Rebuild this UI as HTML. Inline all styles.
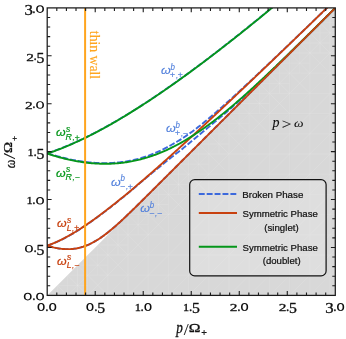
<!DOCTYPE html>
<html><head><meta charset="utf-8"><title>Dispersion relations chart</title>
<style>html,body{margin:0;padding:0;background:#fff}svg{display:block}</style></head>
<body>
<svg width="346" height="339" viewBox="0 0 346 339" style="will-change:transform">
<rect width="346" height="339" fill="#fff"/>
<defs><clipPath id="c"><rect x="47.20" y="7.90" width="288.10" height="287.50"/></clipPath></defs>
<g clip-path="url(#c)">
<polygon points="47.20,295.40 335.30,295.40 335.30,7.90" fill="#d8d8d8"/>
<clipPath id="t"><polygon points="47.20,295.40 335.30,295.40 335.30,7.90"/></clipPath>
<path clip-path="url(#t)" d="M47.20,295.40 V7.90 M47.20,295.40 H355.30 M67.40,295.40 V7.90 M47.20,275.20 H355.30 M87.60,295.40 V7.90 M47.20,255.00 H355.30 M107.80,295.40 V7.90 M47.20,234.80 H355.30 M128.00,295.40 V7.90 M47.20,214.60 H355.30 M148.20,295.40 V7.90 M47.20,194.40 H355.30 M168.40,295.40 V7.90 M47.20,174.20 H355.30 M188.60,295.40 V7.90 M47.20,154.00 H355.30 M208.80,295.40 V7.90 M47.20,133.80 H355.30 M229.00,295.40 V7.90 M47.20,113.60 H355.30 M249.20,295.40 V7.90 M47.20,93.40 H355.30 M269.40,295.40 V7.90 M47.20,73.20 H355.30 M289.60,295.40 V7.90 M47.20,53.00 H355.30 M309.80,295.40 V7.90 M47.20,32.80 H355.30 M330.00,295.40 V7.90 M47.20,12.60 H355.30 M350.20,295.40 V7.90 M47.20,-7.60 H355.30 M-276.00,295.40 l323.20,-323.20 M-255.80,295.40 l323.20,-323.20 M-235.60,295.40 l323.20,-323.20 M-215.40,295.40 l323.20,-323.20 M-195.20,295.40 l323.20,-323.20 M-175.00,295.40 l323.20,-323.20 M-154.80,295.40 l323.20,-323.20 M-134.60,295.40 l323.20,-323.20 M-114.40,295.40 l323.20,-323.20 M-94.20,295.40 l323.20,-323.20 M-74.00,295.40 l323.20,-323.20 M-53.80,295.40 l323.20,-323.20 M-33.60,295.40 l323.20,-323.20 M-13.40,295.40 l323.20,-323.20 M6.80,295.40 l323.20,-323.20 M27.00,295.40 l323.20,-323.20 M47.20,295.40 l323.20,-323.20 M67.40,295.40 l323.20,-323.20 M87.60,295.40 l323.20,-323.20 M107.80,295.40 l323.20,-323.20 M128.00,295.40 l323.20,-323.20 M148.20,295.40 l323.20,-323.20 M168.40,295.40 l323.20,-323.20 M188.60,295.40 l323.20,-323.20 M208.80,295.40 l323.20,-323.20 M229.00,295.40 l323.20,-323.20 M249.20,295.40 l323.20,-323.20 M269.40,295.40 l323.20,-323.20 M289.60,295.40 l323.20,-323.20 M309.80,295.40 l323.20,-323.20 M330.00,295.40 l323.20,-323.20 M350.20,295.40 l323.20,-323.20 M370.40,295.40 l323.20,-323.20 M47.20,275.20 l20.20,20.20 M57.30,295.40 v-20.20 M47.20,285.30 h20.20 M67.40,275.20 l20.20,20.20 M77.50,295.40 v-20.20 M67.40,285.30 h20.20 M67.40,255.00 l20.20,20.20 M77.50,275.20 v-20.20 M67.40,265.10 h20.20 M87.60,275.20 l20.20,20.20 M87.60,255.00 l20.20,20.20 M97.70,275.20 v-20.20 M87.60,265.10 h20.20 M87.60,234.80 l20.20,20.20 M97.70,255.00 v-20.20 M87.60,244.90 h20.20 M107.80,255.00 l20.20,20.20 M107.80,234.80 l20.20,20.20 M117.90,255.00 v-20.20 M107.80,244.90 h20.20 M107.80,214.60 l20.20,20.20 M117.90,234.80 v-20.20 M107.80,224.70 h20.20 M128.00,234.80 l20.20,20.20 M128.00,214.60 l20.20,20.20 M138.10,234.80 v-20.20 M128.00,224.70 h20.20 M128.00,194.40 l20.20,20.20 M138.10,214.60 v-20.20 M128.00,204.50 h20.20 M148.20,214.60 l20.20,20.20 M148.20,194.40 l20.20,20.20 M158.30,214.60 v-20.20 M148.20,204.50 h20.20 M148.20,174.20 l20.20,20.20 M158.30,194.40 v-20.20 M148.20,184.30 h20.20 M168.40,194.40 l20.20,20.20 M168.40,174.20 l20.20,20.20 M178.50,194.40 v-20.20 M168.40,184.30 h20.20 M168.40,154.00 l20.20,20.20 M178.50,174.20 v-20.20 M168.40,164.10 h20.20 M188.60,174.20 l20.20,20.20 M188.60,154.00 l20.20,20.20 M198.70,174.20 v-20.20 M188.60,164.10 h20.20 M188.60,133.80 l20.20,20.20 M198.70,154.00 v-20.20 M188.60,143.90 h20.20 M208.80,154.00 l20.20,20.20 M208.80,133.80 l20.20,20.20 M218.90,154.00 v-20.20 M208.80,143.90 h20.20 M208.80,113.60 l20.20,20.20 M218.90,133.80 v-20.20 M208.80,123.70 h20.20 M229.00,133.80 l20.20,20.20 M229.00,113.60 l20.20,20.20 M239.10,133.80 v-20.20 M229.00,123.70 h20.20 M229.00,93.40 l20.20,20.20 M239.10,113.60 v-20.20 M229.00,103.50 h20.20 M249.20,113.60 l20.20,20.20 M249.20,93.40 l20.20,20.20 M259.30,113.60 v-20.20 M249.20,103.50 h20.20 M249.20,73.20 l20.20,20.20 M259.30,93.40 v-20.20 M249.20,83.30 h20.20 M269.40,93.40 l20.20,20.20 M269.40,73.20 l20.20,20.20 M279.50,93.40 v-20.20 M269.40,83.30 h20.20 M269.40,53.00 l20.20,20.20 M279.50,73.20 v-20.20 M269.40,63.10 h20.20 M289.60,73.20 l20.20,20.20 M289.60,53.00 l20.20,20.20 M299.70,73.20 v-20.20 M289.60,63.10 h20.20 M289.60,32.80 l20.20,20.20 M299.70,53.00 v-20.20 M289.60,42.90 h20.20 M309.80,53.00 l20.20,20.20 M309.80,32.80 l20.20,20.20 M319.90,53.00 v-20.20 M309.80,42.90 h20.20 M309.80,12.60 l20.20,20.20 M319.90,32.80 v-20.20 M309.80,22.70 h20.20 M330.00,32.80 l20.20,20.20 M330.00,12.60 l20.20,20.20 M340.10,32.80 v-20.20 M330.00,22.70 h20.20 M330.00,-7.60 l20.20,20.20 M340.10,12.60 v-20.20 M330.00,2.50 h20.20 M350.20,12.60 l20.20,20.20 M350.20,-7.60 l20.20,20.20 M360.30,12.60 v-20.20 M350.20,2.50 h20.20 M350.20,-27.80 l20.20,20.20 M360.30,-7.60 v-20.20 M350.20,-17.70 h20.20" stroke="#ececec" stroke-width="0.7" fill="none" opacity="0.3"/>
</g>
<text transform="translate(161.053,74.126) scale(0.6215,0.5818)" style="font-family:'Liberation Sans',sans-serif;font-style:italic;font-size:20px;font-kerning:none" fill="#5280dc" stroke="#5280dc" stroke-width="0.199" stroke-linejoin="round">ω</text>
<text transform="translate(170.447,69.654) scale(0.3990,0.4412)" style="font-family:'Liberation Sans',sans-serif;font-style:italic;font-size:20px;font-kerning:none" fill="#5280dc" stroke="#5280dc" stroke-width="0.286" stroke-linejoin="round">b</text>
<text transform="translate(169.788,78.277) scale(0.4508,0.4476)" style="font-family:'Liberation Sans',sans-serif;font-style:italic;font-size:20px;font-kerning:none" fill="#5280dc" stroke="#5280dc" stroke-width="0.267" stroke-linejoin="round">+</text>
<text transform="translate(175.899,77.561) scale(0.4180,0.4258)" style="font-family:'Liberation Sans',sans-serif;font-style:italic;font-size:20px;font-kerning:none" fill="#5280dc" stroke="#5280dc" stroke-width="0.237" stroke-linejoin="round">,</text>
<text transform="translate(177.488,78.277) scale(0.4508,0.4476)" style="font-family:'Liberation Sans',sans-serif;font-style:italic;font-size:20px;font-kerning:none" fill="#5280dc" stroke="#5280dc" stroke-width="0.267" stroke-linejoin="round">+</text>
<text transform="translate(166.053,132.226) scale(0.6215,0.5818)" style="font-family:'Liberation Sans',sans-serif;font-style:italic;font-size:20px;font-kerning:none" fill="#5280dc" stroke="#5280dc" stroke-width="0.199" stroke-linejoin="round">ω</text>
<text transform="translate(175.447,127.754) scale(0.3990,0.4412)" style="font-family:'Liberation Sans',sans-serif;font-style:italic;font-size:20px;font-kerning:none" fill="#5280dc" stroke="#5280dc" stroke-width="0.286" stroke-linejoin="round">b</text>
<text transform="translate(174.788,136.377) scale(0.4508,0.4476)" style="font-family:'Liberation Sans',sans-serif;font-style:italic;font-size:20px;font-kerning:none" fill="#5280dc" stroke="#5280dc" stroke-width="0.267" stroke-linejoin="round">+</text>
<text transform="translate(180.899,135.661) scale(0.4180,0.4258)" style="font-family:'Liberation Sans',sans-serif;font-style:italic;font-size:20px;font-kerning:none" fill="#5280dc" stroke="#5280dc" stroke-width="0.237" stroke-linejoin="round">,</text>
<text transform="translate(182.471,136.615) scale(0.4528,0.4910)" style="font-family:'Liberation Sans',sans-serif;font-style:italic;font-size:20px;font-kerning:none" fill="#5280dc" stroke="#5280dc" stroke-width="0.212" stroke-linejoin="round">−</text>
<text transform="translate(111.053,185.526) scale(0.6215,0.5818)" style="font-family:'Liberation Sans',sans-serif;font-style:italic;font-size:20px;font-kerning:none" fill="#5280dc" stroke="#5280dc" stroke-width="0.199" stroke-linejoin="round">ω</text>
<text transform="translate(120.447,181.054) scale(0.3990,0.4412)" style="font-family:'Liberation Sans',sans-serif;font-style:italic;font-size:20px;font-kerning:none" fill="#5280dc" stroke="#5280dc" stroke-width="0.286" stroke-linejoin="round">b</text>
<text transform="translate(119.771,189.915) scale(0.4528,0.4910)" style="font-family:'Liberation Sans',sans-serif;font-style:italic;font-size:20px;font-kerning:none" fill="#5280dc" stroke="#5280dc" stroke-width="0.212" stroke-linejoin="round">−</text>
<text transform="translate(125.899,188.961) scale(0.4180,0.4258)" style="font-family:'Liberation Sans',sans-serif;font-style:italic;font-size:20px;font-kerning:none" fill="#5280dc" stroke="#5280dc" stroke-width="0.237" stroke-linejoin="round">,</text>
<text transform="translate(127.488,189.677) scale(0.4508,0.4476)" style="font-family:'Liberation Sans',sans-serif;font-style:italic;font-size:20px;font-kerning:none" fill="#5280dc" stroke="#5280dc" stroke-width="0.267" stroke-linejoin="round">+</text>
<text transform="translate(140.253,212.226) scale(0.6215,0.5818)" style="font-family:'Liberation Sans',sans-serif;font-style:italic;font-size:20px;font-kerning:none" fill="#5280dc" stroke="#5280dc" stroke-width="0.199" stroke-linejoin="round">ω</text>
<text transform="translate(149.647,207.754) scale(0.3990,0.4412)" style="font-family:'Liberation Sans',sans-serif;font-style:italic;font-size:20px;font-kerning:none" fill="#5280dc" stroke="#5280dc" stroke-width="0.286" stroke-linejoin="round">b</text>
<text transform="translate(148.971,216.615) scale(0.4528,0.4910)" style="font-family:'Liberation Sans',sans-serif;font-style:italic;font-size:20px;font-kerning:none" fill="#5280dc" stroke="#5280dc" stroke-width="0.212" stroke-linejoin="round">−</text>
<text transform="translate(155.099,215.661) scale(0.4180,0.4258)" style="font-family:'Liberation Sans',sans-serif;font-style:italic;font-size:20px;font-kerning:none" fill="#5280dc" stroke="#5280dc" stroke-width="0.237" stroke-linejoin="round">,</text>
<text transform="translate(156.671,216.615) scale(0.4528,0.4910)" style="font-family:'Liberation Sans',sans-serif;font-style:italic;font-size:20px;font-kerning:none" fill="#5280dc" stroke="#5280dc" stroke-width="0.212" stroke-linejoin="round">−</text>
<text transform="translate(56.097,136.488) scale(0.6159,0.5745)" style="font-family:'Liberation Sans',sans-serif;font-style:italic;font-size:20px;font-kerning:none" fill="#05961a" stroke="#05961a" stroke-width="0.336" stroke-linejoin="round">ω</text>
<text transform="translate(65.979,131.716) scale(0.4297,0.4301)" style="font-family:'Liberation Sans',sans-serif;font-style:italic;font-size:20px;font-kerning:none" fill="#05961a" stroke="#05961a" stroke-width="0.465" stroke-linejoin="round">s</text>
<text transform="translate(65.525,139.800) scale(0.4465,0.4070)" style="font-family:'Liberation Sans',sans-serif;font-style:italic;font-size:20px;font-kerning:none" fill="#05961a" stroke="#05961a" stroke-width="0.469" stroke-linejoin="round">R</text>
<text transform="translate(72.599,139.961) scale(0.4180,0.4258)" style="font-family:'Liberation Sans',sans-serif;font-style:italic;font-size:20px;font-kerning:none" fill="#05961a" stroke="#05961a" stroke-width="0.237" stroke-linejoin="round">,</text>
<text transform="translate(74.538,140.622) scale(0.4425,0.4394)" style="font-family:'Liberation Sans',sans-serif;font-style:italic;font-size:20px;font-kerning:none" fill="#05961a" stroke="#05961a" stroke-width="0.454" stroke-linejoin="round">+</text>
<text transform="translate(56.097,176.588) scale(0.6159,0.5745)" style="font-family:'Liberation Sans',sans-serif;font-style:italic;font-size:20px;font-kerning:none" fill="#05961a" stroke="#05961a" stroke-width="0.336" stroke-linejoin="round">ω</text>
<text transform="translate(65.979,171.816) scale(0.4297,0.4301)" style="font-family:'Liberation Sans',sans-serif;font-style:italic;font-size:20px;font-kerning:none" fill="#05961a" stroke="#05961a" stroke-width="0.465" stroke-linejoin="round">s</text>
<text transform="translate(65.525,179.900) scale(0.4465,0.4070)" style="font-family:'Liberation Sans',sans-serif;font-style:italic;font-size:20px;font-kerning:none" fill="#05961a" stroke="#05961a" stroke-width="0.469" stroke-linejoin="round">R</text>
<text transform="translate(72.599,180.061) scale(0.4180,0.4258)" style="font-family:'Liberation Sans',sans-serif;font-style:italic;font-size:20px;font-kerning:none" fill="#05961a" stroke="#05961a" stroke-width="0.237" stroke-linejoin="round">,</text>
<text transform="translate(74.471,181.015) scale(0.4528,0.4910)" style="font-family:'Liberation Sans',sans-serif;font-style:italic;font-size:20px;font-kerning:none" fill="#05961a" stroke="#05961a" stroke-width="0.212" stroke-linejoin="round">−</text>
<text transform="translate(56.997,227.288) scale(0.6159,0.5745)" style="font-family:'Liberation Sans',sans-serif;font-style:italic;font-size:20px;font-kerning:none" fill="#c8410f" stroke="#c8410f" stroke-width="0.336" stroke-linejoin="round">ω</text>
<text transform="translate(66.879,222.516) scale(0.4297,0.4301)" style="font-family:'Liberation Sans',sans-serif;font-style:italic;font-size:20px;font-kerning:none" fill="#c8410f" stroke="#c8410f" stroke-width="0.465" stroke-linejoin="round">s</text>
<text transform="translate(66.737,230.600) scale(0.4280,0.4070)" style="font-family:'Liberation Sans',sans-serif;font-style:italic;font-size:20px;font-kerning:none" fill="#c8410f" stroke="#c8410f" stroke-width="0.479" stroke-linejoin="round">L</text>
<text transform="translate(71.899,230.761) scale(0.4180,0.4258)" style="font-family:'Liberation Sans',sans-serif;font-style:italic;font-size:20px;font-kerning:none" fill="#c8410f" stroke="#c8410f" stroke-width="0.237" stroke-linejoin="round">,</text>
<text transform="translate(74.038,231.422) scale(0.4425,0.4394)" style="font-family:'Liberation Sans',sans-serif;font-style:italic;font-size:20px;font-kerning:none" fill="#c8410f" stroke="#c8410f" stroke-width="0.454" stroke-linejoin="round">+</text>
<text transform="translate(56.997,264.588) scale(0.6159,0.5745)" style="font-family:'Liberation Sans',sans-serif;font-style:italic;font-size:20px;font-kerning:none" fill="#c8410f" stroke="#c8410f" stroke-width="0.336" stroke-linejoin="round">ω</text>
<text transform="translate(66.879,259.816) scale(0.4297,0.4301)" style="font-family:'Liberation Sans',sans-serif;font-style:italic;font-size:20px;font-kerning:none" fill="#c8410f" stroke="#c8410f" stroke-width="0.465" stroke-linejoin="round">s</text>
<text transform="translate(66.737,267.900) scale(0.4280,0.4070)" style="font-family:'Liberation Sans',sans-serif;font-style:italic;font-size:20px;font-kerning:none" fill="#c8410f" stroke="#c8410f" stroke-width="0.479" stroke-linejoin="round">L</text>
<text transform="translate(71.899,268.061) scale(0.4180,0.4258)" style="font-family:'Liberation Sans',sans-serif;font-style:italic;font-size:20px;font-kerning:none" fill="#c8410f" stroke="#c8410f" stroke-width="0.237" stroke-linejoin="round">,</text>
<text transform="translate(73.971,269.015) scale(0.4528,0.4910)" style="font-family:'Liberation Sans',sans-serif;font-style:italic;font-size:20px;font-kerning:none" fill="#c8410f" stroke="#c8410f" stroke-width="0.212" stroke-linejoin="round">−</text>
<g clip-path="url(#c)" fill="none" stroke-width="1.9">
<path d="M47.20,153.37 L48.16,153.05 L49.12,152.73 L50.08,152.40 L51.04,152.06 L52.00,151.72 L53.20,151.30 L54.40,150.86 L55.60,150.42 L56.80,149.97 L58.00,149.52 L59.20,149.05 L60.40,148.59 L61.61,148.11 L62.81,147.64 L64.01,147.15 L65.21,146.66 L66.41,146.16 L67.61,145.66 L68.81,145.15 L70.01,144.64 L71.21,144.12 L72.41,143.59 L73.61,143.06 L74.81,142.53 L76.01,141.98 L77.21,141.44 L78.41,140.88 L79.61,140.33 L80.81,139.76 L82.01,139.20 L83.21,138.62 L84.41,138.04 L85.61,137.46 L86.81,136.87 L88.01,136.28 L89.21,135.68 L90.42,135.08 L91.62,134.47 L92.82,133.86 L94.02,133.24 L95.22,132.62 L96.42,131.99 L97.62,131.36 L98.82,130.72 L100.02,130.08 L101.22,129.44 L102.42,128.79 L103.62,128.13 L104.82,127.48 L106.02,126.81 L107.22,126.15 L108.42,125.48 L109.62,124.80 L110.82,124.12 L112.02,123.44 L113.22,122.75 L114.42,122.06 L115.62,121.37 L116.82,120.67 L118.02,119.97 L119.23,119.26 L120.43,118.55 L121.63,117.83 L122.83,117.12 L124.03,116.39 L125.23,115.67 L126.43,114.94 L127.63,114.21 L128.83,113.47 L130.03,112.73 L131.23,111.99 L132.43,111.24 L133.63,110.49 L134.83,109.74 L136.03,108.98 L137.23,108.22 L138.43,107.46 L139.63,106.69 L140.83,105.92 L142.03,105.15 L143.23,104.37 L144.43,103.59 L145.63,102.81 L146.83,102.03 L148.04,101.24 L149.24,100.45 L150.44,99.65 L151.64,98.85 L152.84,98.05 L154.04,97.25 L155.24,96.44 L156.44,95.63 L157.64,94.82 L158.84,94.01 L160.04,93.19 L161.24,92.37 L162.44,91.55 L163.64,90.72 L164.84,89.89 L166.04,89.06 L167.24,88.23 L168.44,87.39 L169.64,86.55 L170.84,85.71 L172.04,84.87 L173.24,84.02 L174.44,83.17 L175.64,82.32 L176.85,81.47 L178.05,80.61 L179.25,79.75 L180.45,78.89 L181.65,78.03 L182.85,77.16 L184.05,76.29 L185.25,75.42 L186.45,74.55 L187.65,73.68 L188.85,72.80 L190.05,71.92 L191.25,71.04 L192.45,70.16 L193.65,69.27 L194.85,68.38 L196.05,67.49 L197.25,66.60 L198.45,65.71 L199.65,64.81 L200.85,63.91 L202.05,63.01 L203.25,62.11 L204.45,61.21 L205.66,60.30 L206.86,59.39 L208.06,58.48 L209.26,57.57 L210.46,56.66 L211.66,55.74 L212.86,54.82 L214.06,53.91 L215.26,52.98 L216.46,52.06 L217.66,51.14 L218.86,50.21 L220.06,49.28 L221.26,48.35 L222.46,47.42 L223.66,46.49 L224.86,45.55 L226.06,44.62 L227.26,43.68 L228.46,42.74 L229.66,41.79 L230.86,40.85 L232.06,39.91 L233.26,38.96 L234.47,38.01 L235.67,37.06 L236.87,36.11 L238.07,35.16 L239.27,34.20 L240.47,33.25 L241.67,32.29 L242.87,31.33 L244.07,30.37 L245.27,29.41 L246.47,28.45 L247.67,27.48 L248.87,26.52 L250.07,25.55 L251.27,24.58 L252.47,23.61 L253.67,22.64 L254.87,21.66 L256.07,20.69 L257.27,19.71 L258.47,18.74 L259.67,17.76 L260.87,16.78 L262.07,15.80 L263.28,14.81 L264.48,13.83 L265.68,12.85 L266.88,11.86 L268.08,10.87 L269.28,9.88 L270.48,8.89 L271.68,7.90 L272.88,6.91 L274.08,5.92 L275.28,4.92 L276.48,3.92 L277.68,2.93 L278.88,1.93 L280.08,0.93 L281.28,-0.07 L282.48,-1.07 L283.68,-2.08 L284.88,-3.08 L286.08,-4.09 L287.28,-5.09 L288.48,-6.10 L289.68,-7.11 L290.88,-8.12 L292.08,-9.13 L293.29,-10.14 L294.49,-11.15 L295.69,-12.17 L296.89,-13.18 L298.09,-14.20 L299.29,-15.21 L300.49,-16.23 L301.69,-17.25 L302.89,-18.27 L304.09,-19.29 L305.29,-20.31 L306.49,-21.33 L307.69,-22.36 L308.89,-23.38 L310.09,-24.41 L311.29,-25.44 L312.49,-26.46 L313.69,-27.49 L314.89,-28.52 L316.09,-29.55 L317.29,-30.58 L318.49,-31.61 L319.69,-32.65 L320.89,-33.68 L322.10,-34.72 L323.30,-35.75 L324.50,-36.79 L325.70,-37.83 L326.90,-38.86 L328.10,-39.90 L329.30,-40.94 L330.50,-41.98 L331.70,-43.03 L332.90,-44.07 L334.10,-45.11 L335.30,-46.16" stroke="#3c69dc" stroke-dasharray="5.9,2.0"/>
<path d="M47.20,153.12 L48.16,153.43 L49.12,153.74 L50.08,154.05 L51.04,154.35 L52.00,154.64 L53.20,155.01 L54.40,155.36 L55.60,155.71 L56.80,156.06 L58.00,156.39 L59.20,156.72 L60.40,157.04 L61.61,157.36 L62.81,157.66 L64.01,157.96 L65.21,158.25 L66.41,158.53 L67.61,158.81 L68.81,159.07 L70.01,159.33 L71.21,159.59 L72.41,159.83 L73.61,160.06 L74.81,160.29 L76.01,160.51 L77.21,160.72 L78.41,160.92 L79.61,161.11 L80.81,161.30 L82.01,161.48 L83.21,161.64 L84.41,161.80 L85.61,161.95 L86.81,162.09 L88.01,162.23 L89.21,162.35 L90.42,162.46 L91.62,162.57 L92.82,162.67 L94.02,162.75 L95.22,162.83 L96.42,162.90 L97.62,162.96 L98.82,163.01 L100.02,163.05 L101.22,163.08 L102.42,163.10 L103.62,163.11 L104.82,163.11 L106.02,163.10 L107.22,163.08 L108.42,163.05 L109.62,163.01 L110.82,162.96 L112.02,162.90 L113.22,162.84 L114.42,162.76 L115.62,162.67 L116.82,162.56 L118.02,162.45 L119.23,162.33 L120.43,162.20 L121.63,162.06 L122.83,161.90 L124.03,161.74 L125.23,161.57 L126.43,161.38 L127.63,161.18 L128.83,160.98 L130.03,160.76 L131.23,160.53 L132.43,160.29 L133.63,160.04 L134.83,159.75 L136.03,159.45 L137.23,159.14 L138.43,158.82 L139.63,158.48 L140.83,158.13 L142.03,157.77 L143.23,157.40 L144.43,157.02 L145.63,156.62 L146.83,156.21 L148.04,155.79 L149.24,155.35 L150.44,154.90 L151.64,154.44 L152.84,153.96 L154.04,153.48 L155.24,152.97 L156.44,152.46 L157.64,151.93 L158.84,151.39 L160.04,150.83 L161.24,150.26 L162.44,149.68 L163.64,149.08 L164.84,148.47 L166.04,147.85 L167.24,147.21 L168.44,146.55 L169.64,145.89 L170.84,145.21 L172.04,144.51 L173.24,143.85 L174.44,143.17 L175.64,142.47 L176.85,141.77 L178.05,141.05 L179.25,140.32 L180.45,139.57 L181.65,138.81 L182.85,138.04 L184.05,137.26 L185.25,136.46 L186.45,135.64 L187.65,134.82 L188.85,133.98 L190.05,133.13 L191.25,132.27 L192.45,131.40 L193.65,130.51 L194.85,129.61 L196.05,128.70 L197.25,127.78 L198.45,126.85 L199.65,125.91 L200.85,124.96 L202.05,124.00 L203.25,123.03 L204.45,122.05 L205.66,121.07 L206.86,120.07 L208.06,119.07 L209.26,118.06 L210.46,117.05 L211.66,116.03 L212.86,115.00 L214.06,113.97 L215.26,112.93 L216.46,111.88 L217.66,110.84 L218.86,109.78 L220.06,108.72 L221.26,107.66 L222.46,106.60 L223.66,105.53 L224.86,104.45 L226.06,103.37 L227.26,102.29 L228.46,101.21 L229.66,100.13 L230.86,99.04 L232.06,97.94 L233.26,96.85 L234.47,95.75 L235.67,94.65 L236.87,93.55 L238.07,92.45 L239.27,91.35 L240.47,90.24 L241.67,89.13 L242.87,88.02 L244.07,86.91 L245.27,85.79 L246.47,84.68 L247.67,83.56 L248.87,82.44 L250.07,81.32 L251.27,80.20 L252.47,79.07 L253.67,77.95 L254.87,76.82 L256.07,75.70 L257.27,74.57 L258.47,73.44 L259.67,72.31 L260.87,71.18 L262.07,70.05 L263.28,68.91 L264.48,67.78 L265.68,66.64 L266.88,65.51 L268.08,64.37 L269.28,63.23 L270.48,62.09 L271.68,60.96 L272.88,59.81 L274.08,58.67 L275.28,57.53 L276.48,56.39 L277.68,55.25 L278.88,54.10 L280.08,52.96 L281.28,51.81 L282.48,50.67 L283.68,49.52 L284.88,48.37 L286.08,47.22 L287.28,46.08 L288.48,44.93 L289.68,43.78 L290.88,42.63 L292.08,41.47 L293.29,40.32 L294.49,39.17 L295.69,38.02 L296.89,36.87 L298.09,35.71 L299.29,34.56 L300.49,33.40 L301.69,32.25 L302.89,31.09 L304.09,29.94 L305.29,28.78 L306.49,27.62 L307.69,26.47 L308.89,25.31 L310.09,24.15 L311.29,22.99 L312.49,21.83 L313.69,20.67 L314.89,19.51 L316.09,18.35 L317.29,17.19 L318.49,16.03 L319.69,14.87 L320.89,13.71 L322.10,12.55 L323.30,11.39 L324.50,10.22 L325.70,9.06 L326.90,7.90 L328.10,6.73 L329.30,5.57 L330.50,4.40 L331.70,3.24 L332.90,2.08 L334.10,0.91 L335.30,-0.26" stroke="#3c69dc" stroke-dasharray="5.9,2.0"/>
<path d="M47.20,245.71 L48.16,245.39 L49.12,245.05 L50.08,244.70 L51.04,244.34 L52.00,243.97 L53.20,243.49 L54.40,243.00 L55.60,242.49 L56.80,241.96 L58.00,241.41 L59.20,240.85 L60.40,240.28 L61.61,239.69 L62.81,239.09 L64.01,238.47 L65.21,237.84 L66.41,237.20 L67.61,236.55 L68.81,235.88 L70.01,235.20 L71.21,234.52 L72.41,233.81 L73.61,233.10 L74.81,232.38 L76.01,231.65 L77.21,230.91 L78.41,230.15 L79.61,229.39 L80.81,228.62 L82.01,227.84 L83.21,227.05 L84.41,226.26 L85.61,225.45 L86.81,224.64 L88.01,223.82 L89.21,222.99 L90.42,222.16 L91.62,221.31 L92.82,220.46 L94.02,219.61 L95.22,218.74 L96.42,217.87 L97.62,217.00 L98.82,216.11 L100.02,215.22 L101.22,214.33 L102.42,213.43 L103.62,212.53 L104.82,211.61 L106.02,210.70 L107.22,209.78 L108.42,208.85 L109.62,207.92 L110.82,206.98 L112.02,206.04 L113.22,205.10 L114.42,204.15 L115.62,203.19 L116.82,202.24 L118.02,201.28 L119.23,200.31 L120.43,199.34 L121.63,198.37 L122.83,197.39 L124.03,196.41 L125.23,195.42 L126.43,194.44 L127.63,193.44 L128.83,192.45 L130.03,191.45 L131.23,190.45 L132.43,189.45 L133.63,188.44 L134.83,187.43 L136.03,186.42 L137.23,185.41 L138.43,184.39 L139.63,183.37 L140.83,182.34 L142.03,181.32 L143.23,180.29 L144.43,179.30 L145.63,178.30 L146.83,177.30 L148.04,176.31 L149.24,175.31 L150.44,174.32 L151.64,173.32 L152.84,172.33 L154.04,171.34 L155.24,170.35 L156.44,169.37 L157.64,168.38 L158.84,167.40 L160.04,166.42 L161.24,165.44 L162.44,164.47 L163.64,163.50 L164.84,162.54 L166.04,161.57 L167.24,160.61 L168.44,159.66 L169.64,158.71 L170.84,157.76 L172.04,156.82 L173.24,155.88 L174.44,154.94 L175.64,154.01 L176.85,153.08 L178.05,152.16 L179.25,151.23 L180.45,150.32 L181.65,149.40 L182.85,148.40 L184.05,147.39 L185.25,146.40 L186.45,145.40 L187.65,144.40 L188.85,143.41 L190.05,142.42 L191.25,141.43 L192.45,140.44 L193.65,139.45 L194.85,138.47 L196.05,137.48 L197.25,136.50 L198.45,135.51 L199.65,134.53 L200.85,133.54 L202.05,132.56 L203.25,131.57 L204.45,130.59 L205.66,129.60 L206.86,128.61 L208.06,127.62 L209.26,126.63 L210.46,125.64 L211.66,124.64 L212.86,123.64 L214.06,122.64 L215.26,121.64 L216.46,120.63 L217.66,119.62 L218.86,118.61 L220.06,117.59 L221.26,116.57 L222.46,115.55 L223.66,114.52 L224.86,113.49 L226.06,112.45 L227.26,111.42 L228.46,110.37 L229.66,109.33 L230.86,108.28 L232.06,107.22 L233.26,106.16 L234.47,105.10 L235.67,104.04 L236.87,102.97 L238.07,101.89 L239.27,100.82 L240.47,99.74 L241.67,98.65 L242.87,97.57 L244.07,96.48 L245.27,95.38 L246.47,94.28 L247.67,93.18 L248.87,92.08 L250.07,90.97 L251.27,89.86 L252.47,88.75 L253.67,87.63 L254.87,86.51 L256.07,85.39 L257.27,84.26 L258.47,83.13 L259.67,82.00 L260.87,80.87 L262.07,79.73 L263.28,78.60 L264.48,77.45 L265.68,76.31 L266.88,75.17 L268.08,74.02 L269.28,72.87 L270.48,71.72 L271.68,70.56 L272.88,69.41 L274.08,68.25 L275.28,67.09 L276.48,65.93 L277.68,64.77 L278.88,63.61 L280.08,62.44 L281.28,61.27 L282.48,60.11 L283.68,58.94 L284.88,57.76 L286.08,56.59 L287.28,55.42 L288.48,54.24 L289.68,53.07 L290.88,51.89 L292.08,50.71 L293.29,49.53 L294.49,48.35 L295.69,47.17 L296.89,45.99 L298.09,44.81 L299.29,43.62 L300.49,42.44 L301.69,41.26 L302.89,40.07 L304.09,38.88 L305.29,37.70 L306.49,36.51 L307.69,35.32 L308.89,34.13 L310.09,32.94 L311.29,31.75 L312.49,30.56 L313.69,29.37 L314.89,28.18 L316.09,26.99 L317.29,25.80 L318.49,24.60 L319.69,23.41 L320.89,22.22 L322.10,21.02 L323.30,19.83 L324.50,18.64 L325.70,17.44 L326.90,16.25 L328.10,15.05 L329.30,13.86 L330.50,12.66 L331.70,11.47 L332.90,10.27 L334.10,9.08 L335.30,7.88" stroke="#3c69dc" stroke-dasharray="5.9,2.0"/>
<path d="M47.20,245.57 L48.16,245.88 L49.12,246.18 L50.08,246.47 L51.04,246.74 L52.00,247.00 L53.20,247.31 L54.40,247.60 L55.60,247.86 L56.80,248.10 L58.00,248.32 L59.20,248.52 L60.40,248.68 L61.61,248.83 L62.81,248.95 L64.01,249.04 L65.21,249.11 L66.41,249.15 L67.61,249.16 L68.81,249.15 L70.01,249.10 L71.21,249.03 L72.41,248.93 L73.61,248.80 L74.81,248.64 L76.01,248.45 L77.21,248.23 L78.41,247.97 L79.61,247.69 L80.81,247.38 L82.01,247.03 L83.21,246.66 L84.41,246.25 L85.61,245.81 L86.81,245.34 L88.01,244.84 L89.21,244.31 L90.42,243.74 L91.62,243.15 L92.82,242.53 L94.02,241.88 L95.22,241.20 L96.42,240.49 L97.62,239.75 L98.82,238.99 L100.02,238.20 L101.22,237.38 L102.42,236.54 L103.62,235.68 L104.82,234.79 L106.02,233.88 L107.22,232.95 L108.42,232.00 L109.62,231.03 L110.82,230.04 L112.02,229.03 L113.22,228.01 L114.42,226.97 L115.62,225.92 L116.82,224.86 L118.02,223.78 L119.23,222.69 L120.43,221.59 L121.63,220.48 L122.83,219.36 L124.03,218.23 L125.23,217.10 L126.43,215.96 L127.63,214.81 L128.83,213.65 L130.03,212.50 L131.23,211.33 L132.43,210.16 L133.63,208.99 L134.83,207.82 L136.03,206.64 L137.23,205.46 L138.43,204.27 L139.63,203.09 L140.83,201.90 L142.03,200.71 L143.23,199.52 L144.43,198.33 L145.63,197.14 L146.83,195.95 L148.04,194.75 L149.24,193.56 L150.44,192.36 L151.64,191.17 L152.84,189.97 L154.04,188.78 L155.24,187.58 L156.44,186.38 L157.64,185.19 L158.84,183.99 L160.04,182.79 L161.24,181.60 L162.44,180.40 L163.64,179.20 L164.84,178.00 L166.04,176.81 L167.24,175.61 L168.44,174.41 L169.64,173.21 L170.84,172.01 L172.04,170.82 L173.24,169.62 L174.44,168.42 L175.64,167.22 L176.85,166.02 L178.05,164.83 L179.25,163.63 L180.45,162.43 L181.65,161.23 L182.85,160.04 L184.05,158.84 L185.25,157.64 L186.45,156.44 L187.65,155.24 L188.85,154.05 L190.05,152.85 L191.25,151.65 L192.45,150.45 L193.65,149.25 L194.85,148.06 L196.05,146.86 L197.25,145.66 L198.45,144.46 L199.65,143.26 L200.85,142.07 L202.05,140.87 L203.25,139.67 L204.45,138.47 L205.66,137.27 L206.86,136.08 L208.06,134.88 L209.26,133.68 L210.46,132.48 L211.66,131.29 L212.86,130.09 L214.06,128.89 L215.26,127.69 L216.46,126.49 L217.66,125.30 L218.86,124.10 L220.06,122.90 L221.26,121.70 L222.46,120.50 L223.66,119.31 L224.86,118.11 L226.06,116.91 L227.26,115.71 L228.46,114.51 L229.66,113.32 L230.86,112.12 L232.06,110.92 L233.26,109.72 L234.47,108.52 L235.67,107.33 L236.87,106.13 L238.07,104.93 L239.27,103.73 L240.47,102.54 L241.67,101.34 L242.87,100.14 L244.07,98.94 L245.27,97.74 L246.47,96.55 L247.67,95.35 L248.87,94.15 L250.07,92.95 L251.27,91.75 L252.47,90.56 L253.67,89.36 L254.87,88.16 L256.07,86.96 L257.27,85.76 L258.47,84.57 L259.67,83.37 L260.87,82.17 L262.07,80.97 L263.28,79.77 L264.48,78.58 L265.68,77.38 L266.88,76.18 L268.08,74.98 L269.28,73.79 L270.48,72.59 L271.68,71.39 L272.88,70.19 L274.08,68.99 L275.28,67.80 L276.48,66.60 L277.68,65.40 L278.88,64.20 L280.08,63.00 L281.28,61.81 L282.48,60.61 L283.68,59.41 L284.88,58.21 L286.08,57.01 L287.28,55.82 L288.48,54.62 L289.68,53.42 L290.88,52.22 L292.08,51.02 L293.29,49.83 L294.49,48.63 L295.69,47.43 L296.89,46.23 L298.09,45.04 L299.29,43.84 L300.49,42.64 L301.69,41.44 L302.89,40.24 L304.09,39.05 L305.29,37.85 L306.49,36.65 L307.69,35.45 L308.89,34.25 L310.09,33.06 L311.29,31.86 L312.49,30.66 L313.69,29.46 L314.89,28.26 L316.09,27.07 L317.29,25.87 L318.49,24.67 L319.69,23.47 L320.89,22.27 L322.10,21.08 L323.30,19.88 L324.50,18.68 L325.70,17.48 L326.90,16.29 L328.10,15.09 L329.30,13.89 L330.50,12.69 L331.70,11.49 L332.90,10.30 L334.10,9.10 L335.30,7.90" stroke="#3c69dc" stroke-dasharray="5.9,2.0"/>
<path d="M47.20,245.57 L48.16,245.24 L49.12,244.90 L50.08,244.55 L51.04,244.19 L52.00,243.82 L53.20,243.34 L54.40,242.84 L55.60,242.33 L56.80,241.80 L58.00,241.25 L59.20,240.69 L60.40,240.12 L61.61,239.53 L62.81,238.92 L64.01,238.31 L65.21,237.68 L66.41,237.03 L67.61,236.38 L68.81,235.71 L70.01,235.03 L71.21,234.34 L72.41,233.64 L73.61,232.92 L74.81,232.20 L76.01,231.47 L77.21,230.72 L78.41,229.97 L79.61,229.21 L80.81,228.43 L82.01,227.65 L83.21,226.86 L84.41,226.06 L85.61,225.26 L86.81,224.44 L88.01,223.62 L89.21,222.79 L90.42,221.95 L91.62,221.11 L92.82,220.26 L94.02,219.40 L95.22,218.53 L96.42,217.66 L97.62,216.78 L98.82,215.90 L100.02,215.01 L101.22,214.11 L102.42,213.21 L103.62,212.30 L104.82,211.39 L106.02,210.47 L107.22,209.54 L108.42,208.62 L109.62,207.68 L110.82,206.74 L112.02,205.80 L113.22,204.85 L114.42,203.90 L115.62,202.95 L116.82,201.99 L118.02,201.02 L119.23,200.05 L120.43,199.08 L121.63,198.10 L122.83,197.12 L124.03,196.14 L125.23,195.15 L126.43,194.16 L127.63,193.16 L128.83,192.17 L130.03,191.17 L131.23,190.16 L132.43,189.15 L133.63,188.14 L134.83,187.13 L136.03,186.11 L137.23,185.09 L138.43,184.07 L139.63,183.05 L140.83,182.02 L142.03,180.99 L143.23,179.96 L144.43,178.92 L145.63,177.88 L146.83,176.84 L148.04,175.80 L149.24,174.76 L150.44,173.71 L151.64,172.66 L152.84,171.61 L154.04,170.55 L155.24,169.50 L156.44,168.44 L157.64,167.38 L158.84,166.32 L160.04,165.26 L161.24,164.19 L162.44,163.12 L163.64,162.05 L164.84,160.98 L166.04,159.91 L167.24,158.84 L168.44,157.76 L169.64,156.68 L170.84,155.60 L172.04,154.52 L173.24,153.44 L174.44,152.35 L175.64,151.27 L176.85,150.18 L178.05,149.09 L179.25,148.00 L180.45,146.91 L181.65,145.82 L182.85,144.73 L184.05,143.63 L185.25,142.54 L186.45,141.44 L187.65,140.34 L188.85,139.24 L190.05,138.14 L191.25,137.03 L192.45,135.93 L193.65,134.83 L194.85,133.72 L196.05,132.61 L197.25,131.50 L198.45,130.40 L199.65,129.29 L200.85,128.17 L202.05,127.06 L203.25,125.95 L204.45,124.83 L205.66,123.72 L206.86,122.60 L208.06,121.49 L209.26,120.37 L210.46,119.25 L211.66,118.13 L212.86,117.01 L214.06,115.89 L215.26,114.76 L216.46,113.64 L217.66,112.52 L218.86,111.39 L220.06,110.27 L221.26,109.14 L222.46,108.01 L223.66,106.88 L224.86,105.76 L226.06,104.63 L227.26,103.50 L228.46,102.37 L229.66,101.23 L230.86,100.10 L232.06,98.97 L233.26,97.84 L234.47,96.70 L235.67,95.57 L236.87,94.43 L238.07,93.29 L239.27,92.16 L240.47,91.02 L241.67,89.88 L242.87,88.74 L244.07,87.60 L245.27,86.46 L246.47,85.32 L247.67,84.18 L248.87,83.04 L250.07,81.90 L251.27,80.76 L252.47,79.61 L253.67,78.47 L254.87,77.33 L256.07,76.18 L257.27,75.04 L258.47,73.89 L259.67,72.75 L260.87,71.60 L262.07,70.45 L263.28,69.30 L264.48,68.16 L265.68,67.01 L266.88,65.86 L268.08,64.71 L269.28,63.56 L270.48,62.41 L271.68,61.26 L272.88,60.11 L274.08,58.96 L275.28,57.80 L276.48,56.65 L277.68,55.50 L278.88,54.35 L280.08,53.19 L281.28,52.04 L282.48,50.89 L283.68,49.73 L284.88,48.58 L286.08,47.42 L287.28,46.26 L288.48,45.11 L289.68,43.95 L290.88,42.80 L292.08,41.64 L293.29,40.48 L294.49,39.32 L295.69,38.16 L296.89,37.01 L298.09,35.85 L299.29,34.69 L300.49,33.53 L301.69,32.37 L302.89,31.21 L304.09,30.05 L305.29,28.89 L306.49,27.73 L307.69,26.57 L308.89,25.40 L310.09,24.24 L311.29,23.08 L312.49,21.92 L313.69,20.76 L314.89,19.59 L316.09,18.43 L317.29,17.27 L318.49,16.10 L319.69,14.94 L320.89,13.77 L322.10,12.61 L323.30,11.44 L324.50,10.28 L325.70,9.11 L326.90,7.95 L328.10,6.78 L329.30,5.62 L330.50,4.45 L331.70,3.28 L332.90,2.12 L334.10,0.95 L335.30,-0.22" stroke="#c8410f"/>
<path d="M47.20,153.57 L48.16,153.25 L49.12,152.92 L50.08,152.59 L51.04,152.25 L52.00,151.92 L53.20,151.49 L54.40,151.05 L55.60,150.61 L56.80,150.16 L58.00,149.71 L59.20,149.25 L60.40,148.78 L61.61,148.31 L62.81,147.83 L64.01,147.34 L65.21,146.85 L66.41,146.35 L67.61,145.85 L68.81,145.34 L70.01,144.83 L71.21,144.31 L72.41,143.78 L73.61,143.25 L74.81,142.72 L76.01,142.18 L77.21,141.63 L78.41,141.08 L79.61,140.52 L80.81,139.96 L82.01,139.39 L83.21,138.81 L84.41,138.24 L85.61,137.65 L86.81,137.06 L88.01,136.47 L89.21,135.87 L90.42,135.27 L91.62,134.66 L92.82,134.05 L94.02,133.43 L95.22,132.81 L96.42,132.18 L97.62,131.55 L98.82,130.91 L100.02,130.27 L101.22,129.63 L102.42,128.98 L103.62,128.33 L104.82,127.67 L106.02,127.01 L107.22,126.34 L108.42,125.67 L109.62,124.99 L110.82,124.31 L112.02,123.63 L113.22,122.94 L114.42,122.25 L115.62,121.56 L116.82,120.86 L118.02,120.16 L119.23,119.45 L120.43,118.74 L121.63,118.03 L122.83,117.31 L124.03,116.59 L125.23,115.86 L126.43,115.13 L127.63,114.40 L128.83,113.66 L130.03,112.92 L131.23,112.18 L132.43,111.43 L133.63,110.68 L134.83,109.93 L136.03,109.17 L137.23,108.41 L138.43,107.65 L139.63,106.88 L140.83,106.11 L142.03,105.34 L143.23,104.56 L144.43,103.79 L145.63,103.00 L146.83,102.22 L148.04,101.43 L149.24,100.64 L150.44,99.84 L151.64,99.05 L152.84,98.24 L154.04,97.44 L155.24,96.64 L156.44,95.83 L157.64,95.01 L158.84,94.20 L160.04,93.38 L161.24,92.56 L162.44,91.74 L163.64,90.91 L164.84,90.08 L166.04,89.25 L167.24,88.42 L168.44,87.58 L169.64,86.74 L170.84,85.90 L172.04,85.06 L173.24,84.21 L174.44,83.36 L175.64,82.51 L176.85,81.66 L178.05,80.80 L179.25,79.94 L180.45,79.08 L181.65,78.22 L182.85,77.35 L184.05,76.49 L185.25,75.62 L186.45,74.74 L187.65,73.87 L188.85,72.99 L190.05,72.11 L191.25,71.23 L192.45,70.35 L193.65,69.46 L194.85,68.57 L196.05,67.68 L197.25,66.79 L198.45,65.90 L199.65,65.00 L200.85,64.10 L202.05,63.20 L203.25,62.30 L204.45,61.40 L205.66,60.49 L206.86,59.58 L208.06,58.67 L209.26,57.76 L210.46,56.85 L211.66,55.93 L212.86,55.02 L214.06,54.10 L215.26,53.18 L216.46,52.25 L217.66,51.33 L218.86,50.40 L220.06,49.47 L221.26,48.54 L222.46,47.61 L223.66,46.68 L224.86,45.74 L226.06,44.81 L227.26,43.87 L228.46,42.93 L229.66,41.99 L230.86,41.04 L232.06,40.10 L233.26,39.15 L234.47,38.20 L235.67,37.25 L236.87,36.30 L238.07,35.35 L239.27,34.40 L240.47,33.44 L241.67,32.48 L242.87,31.52 L244.07,30.56 L245.27,29.60 L246.47,28.64 L247.67,27.67 L248.87,26.71 L250.07,25.74 L251.27,24.77 L252.47,23.80 L253.67,22.83 L254.87,21.85 L256.07,20.88 L257.27,19.90 L258.47,18.93 L259.67,17.95 L260.87,16.97 L262.07,15.99 L263.28,15.01 L264.48,14.02 L265.68,13.04 L266.88,12.05 L268.08,11.06 L269.28,10.07 L270.48,9.08 L271.68,8.09 L272.88,7.10 L274.08,6.11 L275.28,5.11 L276.48,4.12 L277.68,3.12 L278.88,2.12 L280.08,1.12 L281.28,0.12 L282.48,-0.88 L283.68,-1.88 L284.88,-2.89 L286.08,-3.89 L287.28,-4.90 L288.48,-5.91 L289.68,-6.92 L290.88,-7.93 L292.08,-8.94 L293.29,-9.95 L294.49,-10.96 L295.69,-11.97 L296.89,-12.99 L298.09,-14.00 L299.29,-15.02 L300.49,-16.04 L301.69,-17.06 L302.89,-18.08 L304.09,-19.10 L305.29,-20.12 L306.49,-21.14 L307.69,-22.17 L308.89,-23.19 L310.09,-24.22 L311.29,-25.24 L312.49,-26.27 L313.69,-27.30 L314.89,-28.33 L316.09,-29.36 L317.29,-30.39 L318.49,-31.42 L319.69,-32.46 L320.89,-33.49 L322.10,-34.52 L323.30,-35.56 L324.50,-36.60 L325.70,-37.63 L326.90,-38.67 L328.10,-39.71 L329.30,-40.75 L330.50,-41.79 L331.70,-42.83 L332.90,-43.88 L334.10,-44.92 L335.30,-45.96" stroke="#05961a"/>
<path d="M47.20,153.57 L48.16,153.88 L49.12,154.20 L50.08,154.51 L51.04,154.81 L52.00,155.11 L53.20,155.48 L54.40,155.84 L55.60,156.19 L56.80,156.54 L58.00,156.88 L59.20,157.21 L60.40,157.54 L61.61,157.85 L62.81,158.17 L64.01,158.47 L65.21,158.76 L66.41,159.05 L67.61,159.33 L68.81,159.60 L70.01,159.86 L71.21,160.12 L72.41,160.37 L73.61,160.61 L74.81,160.84 L76.01,161.06 L77.21,161.28 L78.41,161.49 L79.61,161.68 L80.81,161.87 L82.01,162.06 L83.21,162.23 L84.41,162.39 L85.61,162.55 L86.81,162.69 L88.01,162.83 L89.21,162.96 L90.42,163.08 L91.62,163.19 L92.82,163.29 L94.02,163.39 L95.22,163.47 L96.42,163.54 L97.62,163.61 L98.82,163.66 L100.02,163.71 L101.22,163.75 L102.42,163.77 L103.62,163.79 L104.82,163.80 L106.02,163.80 L107.22,163.78 L108.42,163.76 L109.62,163.73 L110.82,163.69 L112.02,163.64 L113.22,163.57 L114.42,163.50 L115.62,163.42 L116.82,163.33 L118.02,163.22 L119.23,163.11 L120.43,162.99 L121.63,162.85 L122.83,162.71 L124.03,162.55 L125.23,162.39 L126.43,162.21 L127.63,162.02 L128.83,161.83 L130.03,161.62 L131.23,161.40 L132.43,161.17 L133.63,160.93 L134.83,160.68 L136.03,160.42 L137.23,160.14 L138.43,159.86 L139.63,159.57 L140.83,159.26 L142.03,158.94 L143.23,158.62 L144.43,158.28 L145.63,157.93 L146.83,157.57 L148.04,157.20 L149.24,156.81 L150.44,156.42 L151.64,156.02 L152.84,155.60 L154.04,155.18 L155.24,154.74 L156.44,154.29 L157.64,153.83 L158.84,153.36 L160.04,152.88 L161.24,152.39 L162.44,151.89 L163.64,151.37 L164.84,150.85 L166.04,150.31 L167.24,149.77 L168.44,149.21 L169.64,148.64 L170.84,148.06 L172.04,147.48 L173.24,146.88 L174.44,146.27 L175.64,145.65 L176.85,145.02 L178.05,144.38 L179.25,143.72 L180.45,143.06 L181.65,142.39 L182.85,141.71 L184.05,141.02 L185.25,140.32 L186.45,139.61 L187.65,138.88 L188.85,138.15 L190.05,137.41 L191.25,136.66 L192.45,135.90 L193.65,135.13 L194.85,134.36 L196.05,133.57 L197.25,132.77 L198.45,131.97 L199.65,131.15 L200.85,130.33 L202.05,129.50 L203.25,128.66 L204.45,127.81 L205.66,126.95 L206.86,126.09 L208.06,125.21 L209.26,124.33 L210.46,123.44 L211.66,122.54 L212.86,121.64 L214.06,120.72 L215.26,119.80 L216.46,118.88 L217.66,117.94 L218.86,117.00 L220.06,116.05 L221.26,115.09 L222.46,114.13 L223.66,113.16 L224.86,112.18 L226.06,111.20 L227.26,110.21 L228.46,109.22 L229.66,108.22 L230.86,107.21 L232.06,106.20 L233.26,105.18 L234.47,104.15 L235.67,103.13 L236.87,102.09 L238.07,101.05 L239.27,100.01 L240.47,98.96 L241.67,97.90 L242.87,96.84 L244.07,95.78 L245.27,94.71 L246.47,93.63 L247.67,92.56 L248.87,91.47 L250.07,90.39 L251.27,89.30 L252.47,88.20 L253.67,87.11 L254.87,86.01 L256.07,84.90 L257.27,83.79 L258.47,82.68 L259.67,81.57 L260.87,80.45 L262.07,79.33 L263.28,78.20 L264.48,77.08 L265.68,75.95 L266.88,74.82 L268.08,73.68 L269.28,72.54 L270.48,71.40 L271.68,70.26 L272.88,69.12 L274.08,67.97 L275.28,66.82 L276.48,65.67 L277.68,64.52 L278.88,63.36 L280.08,62.21 L281.28,61.05 L282.48,59.89 L283.68,58.72 L284.88,57.56 L286.08,56.40 L287.28,55.23 L288.48,54.06 L289.68,52.89 L290.88,51.72 L292.08,50.55 L293.29,49.38 L294.49,48.20 L295.69,47.03 L296.89,45.85 L298.09,44.67 L299.29,43.49 L300.49,42.31 L301.69,41.13 L302.89,39.95 L304.09,38.77 L305.29,37.59 L306.49,36.40 L307.69,35.22 L308.89,34.04 L310.09,32.85 L311.29,31.66 L312.49,30.48 L313.69,29.29 L314.89,28.10 L316.09,26.91 L317.29,25.72 L318.49,24.53 L319.69,23.34 L320.89,22.15 L322.10,20.96 L323.30,19.77 L324.50,18.58 L325.70,17.39 L326.90,16.20 L328.10,15.00 L329.30,13.81 L330.50,12.62 L331.70,11.42 L332.90,10.23 L334.10,9.04 L335.30,7.84" stroke="#05961a"/>
<path d="M47.20,245.57 L48.16,245.88 L49.12,246.18 L50.08,246.47 L51.04,246.74 L52.00,247.00 L53.20,247.31 L54.40,247.60 L55.60,247.86 L56.80,248.10 L58.00,248.32 L59.20,248.52 L60.40,248.68 L61.61,248.83 L62.81,248.95 L64.01,249.04 L65.21,249.11 L66.41,249.15 L67.61,249.16 L68.81,249.15 L70.01,249.10 L71.21,249.03 L72.41,248.93 L73.61,248.80 L74.81,248.64 L76.01,248.45 L77.21,248.23 L78.41,247.97 L79.61,247.69 L80.81,247.38 L82.01,247.03 L83.21,246.66 L84.41,246.25 L85.61,245.81 L86.81,245.34 L88.01,244.84 L89.21,244.31 L90.42,243.74 L91.62,243.15 L92.82,242.53 L94.02,241.88 L95.22,241.20 L96.42,240.49 L97.62,239.75 L98.82,238.99 L100.02,238.20 L101.22,237.38 L102.42,236.54 L103.62,235.68 L104.82,234.79 L106.02,233.88 L107.22,232.95 L108.42,232.00 L109.62,231.03 L110.82,230.04 L112.02,229.03 L113.22,228.01 L114.42,226.97 L115.62,225.92 L116.82,224.86 L118.02,223.78 L119.23,222.69 L120.43,221.59 L121.63,220.48 L122.83,219.36 L124.03,218.23 L125.23,217.10 L126.43,215.96 L127.63,214.81 L128.83,213.65 L130.03,212.50 L131.23,211.33 L132.43,210.16 L133.63,208.99 L134.83,207.82 L136.03,206.64 L137.23,205.46 L138.43,204.27 L139.63,203.09 L140.83,201.90 L142.03,200.71 L143.23,199.52 L144.43,198.33 L145.63,197.14 L146.83,195.95 L148.04,194.75 L149.24,193.56 L150.44,192.36 L151.64,191.17 L152.84,189.97 L154.04,188.78 L155.24,187.58 L156.44,186.38 L157.64,185.19 L158.84,183.99 L160.04,182.79 L161.24,181.60 L162.44,180.40 L163.64,179.20 L164.84,178.00 L166.04,176.81 L167.24,175.61 L168.44,174.41 L169.64,173.21 L170.84,172.01 L172.04,170.82 L173.24,169.62 L174.44,168.42 L175.64,167.22 L176.85,166.02 L178.05,164.83 L179.25,163.63 L180.45,162.43 L181.65,161.23 L182.85,160.04 L184.05,158.84 L185.25,157.64 L186.45,156.44 L187.65,155.24 L188.85,154.05 L190.05,152.85 L191.25,151.65 L192.45,150.45 L193.65,149.25 L194.85,148.06 L196.05,146.86 L197.25,145.66 L198.45,144.46 L199.65,143.26 L200.85,142.07 L202.05,140.87 L203.25,139.67 L204.45,138.47 L205.66,137.27 L206.86,136.08 L208.06,134.88 L209.26,133.68 L210.46,132.48 L211.66,131.29 L212.86,130.09 L214.06,128.89 L215.26,127.69 L216.46,126.49 L217.66,125.30 L218.86,124.10 L220.06,122.90 L221.26,121.70 L222.46,120.50 L223.66,119.31 L224.86,118.11 L226.06,116.91 L227.26,115.71 L228.46,114.51 L229.66,113.32 L230.86,112.12 L232.06,110.92 L233.26,109.72 L234.47,108.52 L235.67,107.33 L236.87,106.13 L238.07,104.93 L239.27,103.73 L240.47,102.54 L241.67,101.34 L242.87,100.14 L244.07,98.94 L245.27,97.74 L246.47,96.55 L247.67,95.35 L248.87,94.15 L250.07,92.95 L251.27,91.75 L252.47,90.56 L253.67,89.36 L254.87,88.16 L256.07,86.96 L257.27,85.76 L258.47,84.57 L259.67,83.37 L260.87,82.17 L262.07,80.97 L263.28,79.77 L264.48,78.58 L265.68,77.38 L266.88,76.18 L268.08,74.98 L269.28,73.79 L270.48,72.59 L271.68,71.39 L272.88,70.19 L274.08,68.99 L275.28,67.80 L276.48,66.60 L277.68,65.40 L278.88,64.20 L280.08,63.00 L281.28,61.81 L282.48,60.61 L283.68,59.41 L284.88,58.21 L286.08,57.01 L287.28,55.82 L288.48,54.62 L289.68,53.42 L290.88,52.22 L292.08,51.02 L293.29,49.83 L294.49,48.63 L295.69,47.43 L296.89,46.23 L298.09,45.04 L299.29,43.84 L300.49,42.64 L301.69,41.44 L302.89,40.24 L304.09,39.05 L305.29,37.85 L306.49,36.65 L307.69,35.45 L308.89,34.25 L310.09,33.06 L311.29,31.86 L312.49,30.66 L313.69,29.46 L314.89,28.26 L316.09,27.07 L317.29,25.87 L318.49,24.67 L319.69,23.47 L320.89,22.27 L322.10,21.08 L323.30,19.88 L324.50,18.68 L325.70,17.48 L326.90,16.29 L328.10,15.09 L329.30,13.89 L330.50,12.69 L331.70,11.49 L332.90,10.30 L334.10,9.10 L335.30,7.90" stroke="#c8410f"/>
<line x1="85.1" y1="295.40" x2="85.1" y2="7.90" stroke="#ffa51e" stroke-width="2"/>
</g>
<rect x="47.20" y="7.90" width="288.10" height="287.50" fill="none" stroke="#1a1a1a" stroke-width="1.25"/>
<path d="M56.80,295.40 v-3.00 M56.80,7.90 v3.00 M47.20,285.82 h3.00 M335.30,285.82 h-3.00 M66.41,295.40 v-3.00 M66.41,7.90 v3.00 M47.20,276.23 h3.00 M335.30,276.23 h-3.00 M76.01,295.40 v-3.00 M76.01,7.90 v3.00 M47.20,266.65 h3.00 M335.30,266.65 h-3.00 M85.61,295.40 v-3.00 M85.61,7.90 v3.00 M47.20,257.07 h3.00 M335.30,257.07 h-3.00 M95.22,295.40 v-4.40 M95.22,7.90 v4.40 M47.20,247.48 h4.40 M335.30,247.48 h-4.40 M104.82,295.40 v-3.00 M104.82,7.90 v3.00 M47.20,237.90 h3.00 M335.30,237.90 h-3.00 M114.42,295.40 v-3.00 M114.42,7.90 v3.00 M47.20,228.32 h3.00 M335.30,228.32 h-3.00 M124.03,295.40 v-3.00 M124.03,7.90 v3.00 M47.20,218.73 h3.00 M335.30,218.73 h-3.00 M133.63,295.40 v-3.00 M133.63,7.90 v3.00 M47.20,209.15 h3.00 M335.30,209.15 h-3.00 M143.23,295.40 v-4.40 M143.23,7.90 v4.40 M47.20,199.57 h4.40 M335.30,199.57 h-4.40 M152.84,295.40 v-3.00 M152.84,7.90 v3.00 M47.20,189.98 h3.00 M335.30,189.98 h-3.00 M162.44,295.40 v-3.00 M162.44,7.90 v3.00 M47.20,180.40 h3.00 M335.30,180.40 h-3.00 M172.04,295.40 v-3.00 M172.04,7.90 v3.00 M47.20,170.82 h3.00 M335.30,170.82 h-3.00 M181.65,295.40 v-3.00 M181.65,7.90 v3.00 M47.20,161.23 h3.00 M335.30,161.23 h-3.00 M191.25,295.40 v-4.40 M191.25,7.90 v4.40 M47.20,151.65 h4.40 M335.30,151.65 h-4.40 M200.85,295.40 v-3.00 M200.85,7.90 v3.00 M47.20,142.07 h3.00 M335.30,142.07 h-3.00 M210.46,295.40 v-3.00 M210.46,7.90 v3.00 M47.20,132.48 h3.00 M335.30,132.48 h-3.00 M220.06,295.40 v-3.00 M220.06,7.90 v3.00 M47.20,122.90 h3.00 M335.30,122.90 h-3.00 M229.66,295.40 v-3.00 M229.66,7.90 v3.00 M47.20,113.32 h3.00 M335.30,113.32 h-3.00 M239.27,295.40 v-4.40 M239.27,7.90 v4.40 M47.20,103.73 h4.40 M335.30,103.73 h-4.40 M248.87,295.40 v-3.00 M248.87,7.90 v3.00 M47.20,94.15 h3.00 M335.30,94.15 h-3.00 M258.47,295.40 v-3.00 M258.47,7.90 v3.00 M47.20,84.57 h3.00 M335.30,84.57 h-3.00 M268.08,295.40 v-3.00 M268.08,7.90 v3.00 M47.20,74.98 h3.00 M335.30,74.98 h-3.00 M277.68,295.40 v-3.00 M277.68,7.90 v3.00 M47.20,65.40 h3.00 M335.30,65.40 h-3.00 M287.28,295.40 v-4.40 M287.28,7.90 v4.40 M47.20,55.82 h4.40 M335.30,55.82 h-4.40 M296.89,295.40 v-3.00 M296.89,7.90 v3.00 M47.20,46.23 h3.00 M335.30,46.23 h-3.00 M306.49,295.40 v-3.00 M306.49,7.90 v3.00 M47.20,36.65 h3.00 M335.30,36.65 h-3.00 M316.09,295.40 v-3.00 M316.09,7.90 v3.00 M47.20,27.07 h3.00 M335.30,27.07 h-3.00 M325.70,295.40 v-3.00 M325.70,7.90 v3.00 M47.20,17.48 h3.00 M335.30,17.48 h-3.00" stroke="#1a1a1a" stroke-width="1.1" fill="none"/>
<path fill-rule="evenodd" fill="#111" d="M37.50,307.10 a3.60,4.00 0 1,0 7.20,0 a3.60,4.00 0 1,0 -7.20,0 Z M39.10,307.10 a2.00,3.05 0 1,0 4.00,0 a2.00,3.05 0 1,0 -4.00,0 Z"/>
<text transform="translate(45.310,310.739) scale(0.6559,0.6559)" style="font-family:'Liberation Serif',serif;font-style:normal;font-size:20px;font-kerning:none" fill="#111" stroke="#111" stroke-width="0.534" stroke-linejoin="round">.</text>
<path fill-rule="evenodd" fill="#111" d="M49.10,307.10 a3.60,4.00 0 1,0 7.20,0 a3.60,4.00 0 1,0 -7.20,0 Z M50.70,307.10 a2.00,3.05 0 1,0 4.00,0 a2.00,3.05 0 1,0 -4.00,0 Z"/>
<path fill-rule="evenodd" fill="#111" d="M23.80,296.60 a3.95,3.80 0 1,0 7.90,0 a3.95,3.80 0 1,0 -7.90,0 Z M25.40,296.60 a2.35,2.85 0 1,0 4.70,0 a2.35,2.85 0 1,0 -4.70,0 Z"/>
<text transform="translate(32.310,300.039) scale(0.6559,0.6559)" style="font-family:'Liberation Serif',serif;font-style:normal;font-size:20px;font-kerning:none" fill="#111" stroke="#111" stroke-width="0.534" stroke-linejoin="round">.</text>
<path fill-rule="evenodd" fill="#111" d="M36.10,296.60 a3.95,3.80 0 1,0 7.90,0 a3.95,3.80 0 1,0 -7.90,0 Z M37.70,296.60 a2.35,2.85 0 1,0 4.70,0 a2.35,2.85 0 1,0 -4.70,0 Z"/>
<path fill-rule="evenodd" fill="#111" d="M86.37,307.10 a3.60,4.00 0 1,0 7.20,0 a3.60,4.00 0 1,0 -7.20,0 Z M87.97,307.10 a2.00,3.05 0 1,0 4.00,0 a2.00,3.05 0 1,0 -4.00,0 Z"/>
<text transform="translate(94.177,310.739) scale(0.6559,0.6559)" style="font-family:'Liberation Serif',serif;font-style:normal;font-size:20px;font-kerning:none" fill="#111" stroke="#111" stroke-width="0.534" stroke-linejoin="round">.</text>
<text transform="translate(97.226,313.285) scale(0.7882,0.7185)" style="font-family:'Liberation Serif',serif;font-style:normal;font-size:20px;font-kerning:none" fill="#111" stroke="#111" stroke-width="0.465" stroke-linejoin="round">5</text>
<path fill-rule="evenodd" fill="#111" d="M25.00,248.68 a3.95,3.80 0 1,0 7.90,0 a3.95,3.80 0 1,0 -7.90,0 Z M26.60,248.68 a2.35,2.85 0 1,0 4.70,0 a2.35,2.85 0 1,0 -4.70,0 Z"/>
<text transform="translate(33.510,252.123) scale(0.6559,0.6559)" style="font-family:'Liberation Serif',serif;font-style:normal;font-size:20px;font-kerning:none" fill="#111" stroke="#111" stroke-width="0.534" stroke-linejoin="round">.</text>
<text transform="translate(36.559,254.668) scale(0.7882,0.7185)" style="font-family:'Liberation Serif',serif;font-style:normal;font-size:20px;font-kerning:none" fill="#111" stroke="#111" stroke-width="0.465" stroke-linejoin="round">5</text>
<text transform="translate(134.672,310.925) scale(0.6178,0.5340)" style="font-family:'Liberation Serif',serif;font-style:normal;font-size:20px;font-kerning:none" fill="#111" stroke="#111" stroke-width="0.608" stroke-linejoin="round">1</text>
<text transform="translate(140.594,310.739) scale(0.6559,0.6559)" style="font-family:'Liberation Serif',serif;font-style:normal;font-size:20px;font-kerning:none" fill="#111" stroke="#111" stroke-width="0.534" stroke-linejoin="round">.</text>
<path fill-rule="evenodd" fill="#111" d="M144.38,307.10 a3.60,4.00 0 1,0 7.20,0 a3.60,4.00 0 1,0 -7.20,0 Z M145.98,307.10 a2.00,3.05 0 1,0 4.00,0 a2.00,3.05 0 1,0 -4.00,0 Z"/>
<text transform="translate(26.389,204.392) scale(0.6178,0.5340)" style="font-family:'Liberation Serif',serif;font-style:normal;font-size:20px;font-kerning:none" fill="#111" stroke="#111" stroke-width="0.608" stroke-linejoin="round">1</text>
<text transform="translate(32.310,204.206) scale(0.6559,0.6559)" style="font-family:'Liberation Serif',serif;font-style:normal;font-size:20px;font-kerning:none" fill="#111" stroke="#111" stroke-width="0.534" stroke-linejoin="round">.</text>
<path fill-rule="evenodd" fill="#111" d="M36.10,200.77 a3.95,3.80 0 1,0 7.90,0 a3.95,3.80 0 1,0 -7.90,0 Z M37.70,200.77 a2.35,2.85 0 1,0 4.70,0 a2.35,2.85 0 1,0 -4.70,0 Z"/>
<text transform="translate(183.089,310.925) scale(0.6178,0.5340)" style="font-family:'Liberation Serif',serif;font-style:normal;font-size:20px;font-kerning:none" fill="#111" stroke="#111" stroke-width="0.608" stroke-linejoin="round">1</text>
<text transform="translate(189.010,310.739) scale(0.6559,0.6559)" style="font-family:'Liberation Serif',serif;font-style:normal;font-size:20px;font-kerning:none" fill="#111" stroke="#111" stroke-width="0.534" stroke-linejoin="round">.</text>
<text transform="translate(192.059,313.285) scale(0.7882,0.7185)" style="font-family:'Liberation Serif',serif;font-style:normal;font-size:20px;font-kerning:none" fill="#111" stroke="#111" stroke-width="0.465" stroke-linejoin="round">5</text>
<text transform="translate(27.589,156.475) scale(0.6178,0.5340)" style="font-family:'Liberation Serif',serif;font-style:normal;font-size:20px;font-kerning:none" fill="#111" stroke="#111" stroke-width="0.608" stroke-linejoin="round">1</text>
<text transform="translate(33.510,156.289) scale(0.6559,0.6559)" style="font-family:'Liberation Serif',serif;font-style:normal;font-size:20px;font-kerning:none" fill="#111" stroke="#111" stroke-width="0.534" stroke-linejoin="round">.</text>
<text transform="translate(36.559,158.835) scale(0.7882,0.7185)" style="font-family:'Liberation Serif',serif;font-style:normal;font-size:20px;font-kerning:none" fill="#111" stroke="#111" stroke-width="0.465" stroke-linejoin="round">5</text>
<text transform="translate(229.867,310.925) scale(0.7671,0.5324)" style="font-family:'Liberation Serif',serif;font-style:normal;font-size:20px;font-kerning:none" fill="#111" stroke="#111" stroke-width="0.539" stroke-linejoin="round">2</text>
<text transform="translate(237.177,310.739) scale(0.6559,0.6559)" style="font-family:'Liberation Serif',serif;font-style:normal;font-size:20px;font-kerning:none" fill="#111" stroke="#111" stroke-width="0.534" stroke-linejoin="round">.</text>
<path fill-rule="evenodd" fill="#111" d="M240.97,307.10 a3.60,4.00 0 1,0 7.20,0 a3.60,4.00 0 1,0 -7.20,0 Z M242.57,307.10 a2.00,3.05 0 1,0 4.00,0 a2.00,3.05 0 1,0 -4.00,0 Z"/>
<text transform="translate(25.001,108.558) scale(0.7671,0.5324)" style="font-family:'Liberation Serif',serif;font-style:normal;font-size:20px;font-kerning:none" fill="#111" stroke="#111" stroke-width="0.539" stroke-linejoin="round">2</text>
<text transform="translate(32.310,108.373) scale(0.6559,0.6559)" style="font-family:'Liberation Serif',serif;font-style:normal;font-size:20px;font-kerning:none" fill="#111" stroke="#111" stroke-width="0.534" stroke-linejoin="round">.</text>
<path fill-rule="evenodd" fill="#111" d="M36.10,104.93 a3.95,3.80 0 1,0 7.90,0 a3.95,3.80 0 1,0 -7.90,0 Z M37.70,104.93 a2.35,2.85 0 1,0 4.70,0 a2.35,2.85 0 1,0 -4.70,0 Z"/>
<text transform="translate(278.634,310.925) scale(0.7671,0.5324)" style="font-family:'Liberation Serif',serif;font-style:normal;font-size:20px;font-kerning:none" fill="#111" stroke="#111" stroke-width="0.539" stroke-linejoin="round">2</text>
<text transform="translate(285.944,310.739) scale(0.6559,0.6559)" style="font-family:'Liberation Serif',serif;font-style:normal;font-size:20px;font-kerning:none" fill="#111" stroke="#111" stroke-width="0.534" stroke-linejoin="round">.</text>
<text transform="translate(288.992,313.285) scale(0.7882,0.7185)" style="font-family:'Liberation Serif',serif;font-style:normal;font-size:20px;font-kerning:none" fill="#111" stroke="#111" stroke-width="0.465" stroke-linejoin="round">5</text>
<text transform="translate(26.201,60.642) scale(0.7671,0.5324)" style="font-family:'Liberation Serif',serif;font-style:normal;font-size:20px;font-kerning:none" fill="#111" stroke="#111" stroke-width="0.539" stroke-linejoin="round">2</text>
<text transform="translate(33.510,60.456) scale(0.6559,0.6559)" style="font-family:'Liberation Serif',serif;font-style:normal;font-size:20px;font-kerning:none" fill="#111" stroke="#111" stroke-width="0.534" stroke-linejoin="round">.</text>
<text transform="translate(36.559,63.001) scale(0.7882,0.7185)" style="font-family:'Liberation Serif',serif;font-style:normal;font-size:20px;font-kerning:none" fill="#111" stroke="#111" stroke-width="0.465" stroke-linejoin="round">5</text>
<text transform="translate(325.370,313.286) scale(0.8412,0.7107)" style="font-family:'Liberation Serif',serif;font-style:normal;font-size:20px;font-kerning:none" fill="#111" stroke="#111" stroke-width="0.451" stroke-linejoin="round">3</text>
<text transform="translate(333.210,310.739) scale(0.6559,0.6559)" style="font-family:'Liberation Serif',serif;font-style:normal;font-size:20px;font-kerning:none" fill="#111" stroke="#111" stroke-width="0.534" stroke-linejoin="round">.</text>
<path fill-rule="evenodd" fill="#111" d="M337.00,307.10 a3.60,4.00 0 1,0 7.20,0 a3.60,4.00 0 1,0 -7.20,0 Z M338.60,307.10 a2.00,3.05 0 1,0 4.00,0 a2.00,3.05 0 1,0 -4.00,0 Z"/>
<text transform="translate(24.470,15.086) scale(0.8412,0.7107)" style="font-family:'Liberation Serif',serif;font-style:normal;font-size:20px;font-kerning:none" fill="#111" stroke="#111" stroke-width="0.451" stroke-linejoin="round">3</text>
<text transform="translate(32.310,12.539) scale(0.6559,0.6559)" style="font-family:'Liberation Serif',serif;font-style:normal;font-size:20px;font-kerning:none" fill="#111" stroke="#111" stroke-width="0.534" stroke-linejoin="round">.</text>
<path fill-rule="evenodd" fill="#111" d="M36.10,9.10 a3.95,3.80 0 1,0 7.90,0 a3.95,3.80 0 1,0 -7.90,0 Z M37.70,9.10 a2.35,2.85 0 1,0 4.70,0 a2.35,2.85 0 1,0 -4.70,0 Z"/>
<text transform="translate(176.315,333.458) scale(0.6530,0.7967)" style="font-family:'Liberation Serif',serif;font-style:italic;font-size:20px;font-kerning:none" fill="#111" stroke="#111" stroke-width="0.414" stroke-linejoin="round">p</text>
<text transform="translate(183.625,334.506) scale(0.8908,0.8633)" style="font-family:'Liberation Serif',serif;font-style:normal;font-size:20px;font-kerning:none" fill="#111" stroke="#111" stroke-width="0.057" stroke-linejoin="round">/</text>
<text transform="translate(188.633,331.950) scale(0.7895,0.5966)" style="font-family:'Liberation Serif',serif;font-style:normal;font-size:20px;font-kerning:none" fill="#111" stroke="#111" stroke-width="0.433" stroke-linejoin="round">Ω</text>
<text transform="translate(201.247,336.450) scale(0.5050,0.5045)" style="font-family:'Liberation Serif',serif;font-style:normal;font-size:20px;font-kerning:none" fill="#111" stroke="#111" stroke-width="0.594" stroke-linejoin="round">+</text>
<text transform="translate(14.605,168.157) rotate(-90) scale(0.6122,0.7419)" style="font-family:'Liberation Serif',serif;font-style:italic;font-size:20px;font-kerning:none" fill="#111" stroke="#111" stroke-width="0.443" stroke-linejoin="round">ω</text>
<text transform="translate(15.012,159.275) rotate(-90) scale(1.1068,0.8334)" style="font-family:'Liberation Serif',serif;font-style:normal;font-size:20px;font-kerning:none" fill="#111" stroke="#111" stroke-width="0.052" stroke-linejoin="round">/</text>
<text transform="translate(12.250,153.119) rotate(-90) scale(0.7426,0.5966)" style="font-family:'Liberation Serif',serif;font-style:normal;font-size:20px;font-kerning:none" fill="#111" stroke="#111" stroke-width="0.448" stroke-linejoin="round">Ω</text>
<text transform="translate(17.144,141.000) rotate(-90) scale(0.4513,0.4508)" style="font-family:'Liberation Serif',serif;font-style:normal;font-size:20px;font-kerning:none" fill="#111" stroke="#111" stroke-width="0.665" stroke-linejoin="round">+</text>
<text transform="translate(90.213,30.841) rotate(90) scale(0.6855,0.7071)" style="font-family:'Liberation Serif',serif;font-style:normal;font-size:20px;font-kerning:none" fill="#ffa51e" stroke="#ffa51e" stroke-width="0.215" stroke-linejoin="round">thin wall</text>
<text transform="translate(272.378,126.810) scale(0.6984,0.7587)" style="font-family:'Liberation Serif',serif;font-style:italic;font-size:20px;font-kerning:none" fill="#111" stroke="#111" stroke-width="0.165" stroke-linejoin="round">p</text>
<text transform="translate(280.712,128.506) scale(0.8510,0.6861)" style="font-family:'Liberation Serif',serif;font-style:italic;font-size:20px;font-kerning:none" fill="#111" stroke="#111" stroke-width="0.104" stroke-linejoin="round">&gt;</text>
<text transform="translate(293.912,126.932) scale(0.6742,0.5517)" style="font-family:'Liberation Serif',serif;font-style:italic;font-size:20px;font-kerning:none" fill="#111" stroke="#111" stroke-width="0.196" stroke-linejoin="round">ω</text>
<rect x="189.7" y="179.6" width="136.4" height="96.3" rx="5" ry="5" fill="#e6e6e6" fill-opacity="0.45" stroke="#111" stroke-width="1.2"/>
<line x1="198.8" y1="194" x2="237" y2="194" stroke="#3c69dc" stroke-width="2.1" stroke-dasharray="5.9,2.0"/>
<line x1="198.8" y1="213" x2="237" y2="213" stroke="#c8410f" stroke-width="2.1"/>
<line x1="198.8" y1="246.7" x2="237" y2="246.7" stroke="#05961a" stroke-width="2.1"/>
<text transform="translate(242.211,197.893) scale(0.4872,0.4725)" style="font-family:'Liberation Sans',sans-serif;font-style:normal;font-size:20px;font-kerning:none" fill="#111" stroke="#111" stroke-width="0.458" stroke-linejoin="round">Broken Phase</text>
<text transform="translate(242.573,217.439) scale(0.4808,0.4757)" style="font-family:'Liberation Sans',sans-serif;font-style:normal;font-size:20px;font-kerning:none" fill="#111" stroke="#111" stroke-width="0.460" stroke-linejoin="round">Symmetric Phase</text>
<text transform="translate(264.311,230.539) scale(0.4833,0.4757)" style="font-family:'Liberation Sans',sans-serif;font-style:normal;font-size:20px;font-kerning:none" fill="#111" stroke="#111" stroke-width="0.459" stroke-linejoin="round">(singlet)</text>
<text transform="translate(242.573,250.739) scale(0.4808,0.4757)" style="font-family:'Liberation Sans',sans-serif;font-style:normal;font-size:20px;font-kerning:none" fill="#111" stroke="#111" stroke-width="0.460" stroke-linejoin="round">Symmetric Phase</text>
<text transform="translate(262.713,264.239) scale(0.4811,0.4757)" style="font-family:'Liberation Sans',sans-serif;font-style:normal;font-size:20px;font-kerning:none" fill="#111" stroke="#111" stroke-width="0.460" stroke-linejoin="round">(doublet)</text>
</svg>
</body></html>
